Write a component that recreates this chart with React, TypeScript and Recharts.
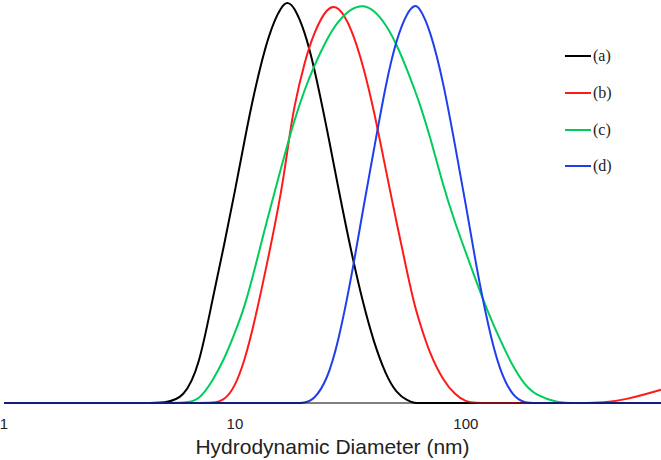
import { Label, Line, LineChart, XAxis, YAxis } from "recharts";

const diameters = [
  1, 2, 3, 4, 5, 6, 7, 8, 9, 10, 11, 12, 14, 16, 17, 18, 20, 22, 25, 28, 32, 36, 40, 45, 50, 56, 60, 63,
  70, 80, 90, 100, 110, 125, 140, 160, 180, 200, 250, 300, 400, 500, 600, 700,
];

const seriesA = [
  0, 0, 0, 0, 0, 1.2, 9, 26, 39.6, 52.8, 65.4, 76.5, 92.4, 99.4, 100, 98.9, 93, 84, 68.6, 53.7, 37.2,
  24.5, 15, 7, 2.5, 0.5, 0, 0, 0, 0, 0, 0, 0, 0, 0, 0, 0, 0, 0, 0, 0, 0, 0, 0,
];

const seriesB = [
  0, 0, 0, 0, 0, 0, 0, 0, 0.6, 4, 10.5, 18.7, 36.5, 53.5, 64.3, 73.8, 85, 92.4, 98.7, 99.3, 93.5, 84, 73,
  58.2, 45.3, 31.9, 24.3, 20.2, 12, 5.5, 2, 0.3, 0, 0, 0, 0, 0, 0, 0, 0, 0, 1, 2.2, 3.3,
];

const seriesC = [
  0, 0, 0, 0, 0, 0, 0.6, 5.5, 11, 17.5, 23.9, 31.9, 47.2, 59.6, 65, 70.1, 78.1, 84, 90.8, 95.3, 98.5,
  99.3, 98, 94.5, 89.6, 82.8, 78.1, 74.8, 66.5, 53.8, 44.8, 37.5, 30.9, 22.5, 16, 9, 4.5, 2, 0, 0, 0, 0,
  0, 0,
];

const seriesD = [
  0, 0, 0, 0, 0, 0, 0, 0, 0, 0, 0, 0, 0, 0, 0, 0, 0, 0.8, 5.5, 15, 31.5, 48.8, 63.2, 79.5, 90.8, 97.7,
  99.3, 98.7, 93.2, 80, 63.9, 49.5, 35.2, 19, 8, 1.5, 0, 0, 0, 0, 0, 0, 0, 0,
];

const xTicks = [1, 10, 100];

const series = [
  { key: "a", name: "(a)", color: "#000000", values: seriesA },
  { key: "b", name: "(b)", color: "#ff1a1a", values: seriesB },
  { key: "c", name: "(c)", color: "#00cc5c", values: seriesC },
  { key: "d", name: "(d)", color: "#1f3fee", values: seriesD },
];

// one row per diameter, one column per sample
const data = diameters.map((size, i) => {
  const row: Record<string, number> = { size };
  series.forEach((s) => {
    row[s.key] = s.values[i];
  });
  return row;
});

export default function App() {
  return (
    <div style={{ position: "absolute", left: 0, top: 0, width: 661, height: 460, background: "#fff" }}>
      <LineChart width={661} height={460} data={data} margin={{ top: 2, right: 0, bottom: 0, left: 4 }}>
        <XAxis
          dataKey="size"
          type="number"
          scale="log"
          domain={[1, 700]}
          ticks={xTicks}
          allowDataOverflow
          height={57}
          stroke="#000"
          tickLine={false}
          tickMargin={9}
          tick={{ fontSize: 15, fill: "#222", fontFamily: "Liberation Sans, Arial, sans-serif" }}
        >
          <Label
            value="Hydrodynamic Diameter (nm)"
            position="insideBottom"
            offset={6}
            style={{ fontSize: 21, fill: "#222", fontFamily: "Liberation Sans, Arial, sans-serif" }}
          />
        </XAxis>
        <YAxis hide domain={[0, 100]} />
        {series.map((s) => (
          <Line
            key={s.key}
            dataKey={s.key}
            name={s.name}
            type="basis"
            stroke={s.color}
            strokeWidth={2}
            dot={false}
            isAnimationActive={false}
          />
        ))}
      </LineChart>
      <div style={{ position: "absolute", left: 565, top: 38 }}>
        {series.map((s) => (
          <div key={s.key} style={{ height: 36.7, display: "flex", alignItems: "center" }}>
            <div style={{ width: 26, height: 2, background: s.color }} />
            <span
              style={{
                marginLeft: 2,
                fontSize: 16,
                color: "#222",
                fontFamily: "Liberation Serif, Times New Roman, serif",
              }}
            >
              {s.name}
            </span>
          </div>
        ))}
      </div>
    </div>
  );
}
